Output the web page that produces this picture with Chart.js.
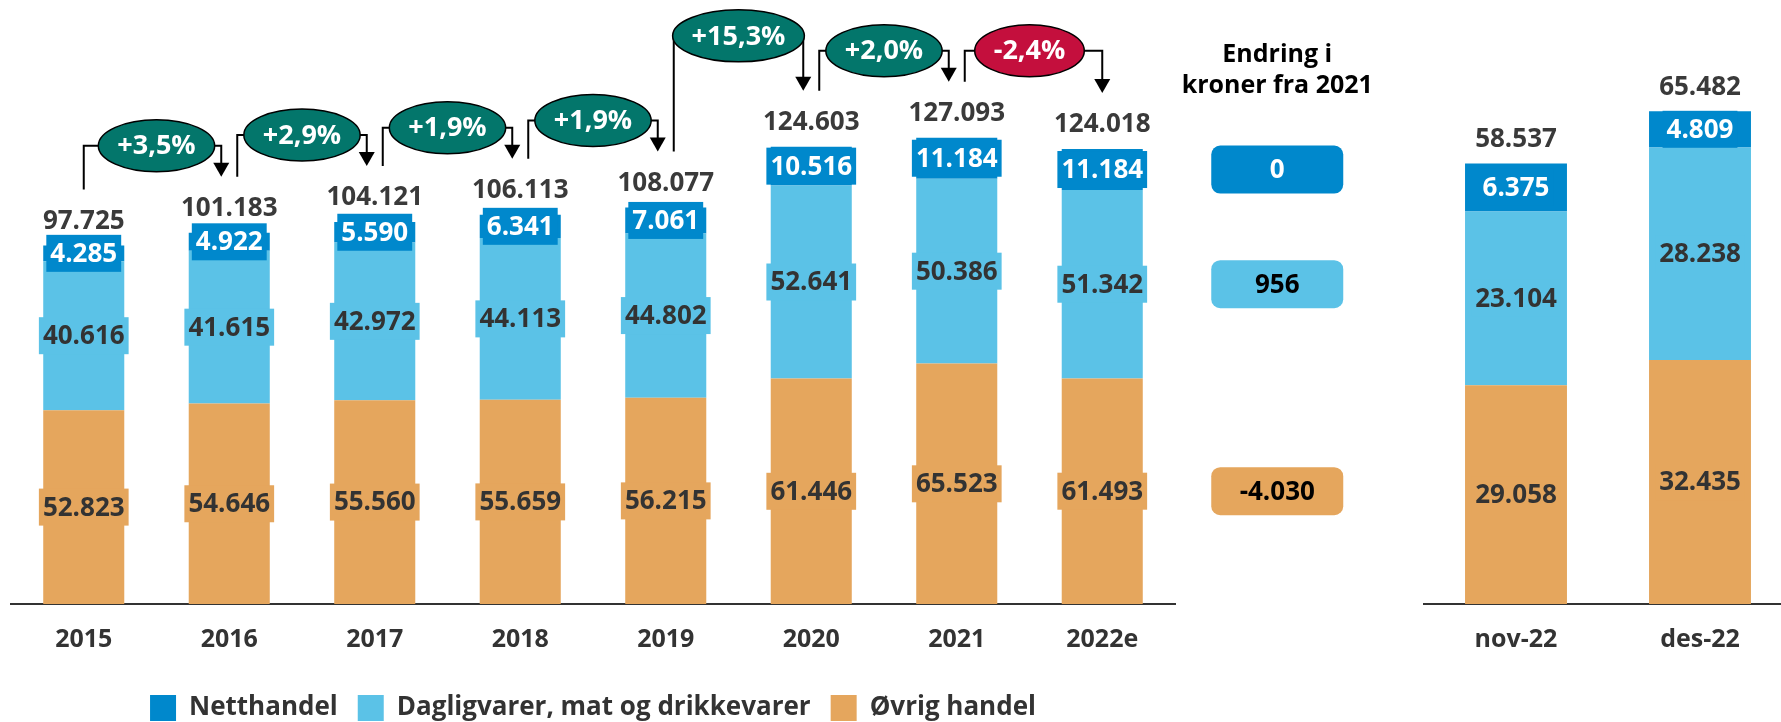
<!DOCTYPE html>
<html>
<head>
<meta charset="utf-8">
<script src="https://cdn.jsdelivr.net/npm/chart.js@4.4.0/dist/chart.umd.min.js"></script>
<style>
  html, body { margin: 0; padding: 0; background: #fff; overflow: hidden; }
  #wrap { position: relative; width: 1781px; height: 722px; overflow: hidden; }
  #main { position: absolute; left: 0; top: 0; }
  #side { position: absolute; left: 1400px; top: 0; }
</style>
</head>
<body>
<div id="wrap">
  <canvas id="main" width="1400" height="731"></canvas>
  <canvas id="side" width="392" height="731"></canvas>
</div>
<script>
// årstall (mill. kr)
const years = ['2015', '2016', '2017', '2018', '2019', '2020', '2021', '2022e'];
const netthandel = [4285, 4922, 5590, 6341, 7061, 10516, 11184, 11184];
const dagligvarer = [40616, 41615, 42972, 44113, 44802, 52641, 50386, 51342];
const ovrig = [52823, 54646, 55560, 55659, 56215, 61446, 65523, 61493];
const totals = [97725, 101183, 104121, 106113, 108077, 124603, 127093, 124018];

// endring 2022e mot 2021: netthandel, dagligvarer, øvrig
const endringTitle = ['Endring i', 'kroner fra 2021'];
const endring = [0, 956, -4030];

// måneder
const months = ['nov-22', 'des-22'];
const netthandelMnd = [6375, 4809];
const dagligvarerMnd = [23104, 28238];
const ovrigMnd = [29058, 32435];
const totalsMnd = [58537, 65482];

const BLUE = '#0088cc', LIGHT = '#5bc2e7', ORANGE = '#e5a65d';
const FONT = '"Open Sans", "Noto Sans", sans-serif';

function fmt(v) {
  const s = String(Math.abs(v)).replace(/\B(?=(\d{3})+(?!\d))/g, '.');
  return (v < 0 ? '-' : '') + s;
}
function pct(v) {
  return (v >= 0 ? '+' : '-') + Math.abs(v * 100).toFixed(1).replace('.', ',') + '%';
}

// verdietiketter i segmentene + totaler over stolpene
const segLabels = {
  id: 'segLabels',
  afterDatasetsDraw(chart, args, opts) {
    const ctx = chart.ctx;
    ctx.save();
    ctx.font = 'bold 26px ' + FONT;
    ctx.textAlign = 'center';
    ctx.textBaseline = 'middle';
    chart.data.datasets.forEach((ds, di) => {
      chart.getDatasetMeta(di).data.forEach((bar, i) => {
        const txt = fmt(ds.data[i]);
        const w = ctx.measureText(txt).width + 8;
        const y = (bar.y + bar.base) / 2;
        ctx.fillStyle = ds.backgroundColor;
        ctx.fillRect(bar.x - w / 2, y - 18.5, w, 37);
        ctx.fillStyle = ds.labelColor;
        ctx.fillText(txt, bar.x, y + 1);
      });
    });
    const xs = chart.scales.x, ys = chart.scales.y;
    ctx.fillStyle = '#3a3a3a';
    opts.totals.forEach((t, i) => {
      ctx.fillText(fmt(t), xs.getPixelForValue(i), ys.getPixelForValue(t) - 24);
    });
    ctx.restore();
  }
};

// vekst-piler med ellipser
const growth = {
  id: 'growth',
  afterDatasetsDraw(chart) {
    const ctx = chart.ctx, xs = chart.scales.x, ys = chart.scales.y;
    const last = totals.length - 1;
    ctx.save();
    for (let i = 0; i < last; i++) {
      const x1 = xs.getPixelForValue(i) + (i === 0 ? 0 : 8);
      const x2 = xs.getPixelForValue(i + 1) - (i + 1 === last ? 0 : 8);
      const t1 = ys.getPixelForValue(totals[i]) - 56, t2 = ys.getPixelForValue(totals[i + 1]) - 56;
      const level = Math.min(t1, t2) - 31 - (i === 4 ? 24 : 0);
      const change = totals[i + 1] / totals[i] - 1;
      ctx.strokeStyle = '#000';
      ctx.lineWidth = 2;
      ctx.beginPath();
      ctx.moveTo(x1, t1);
      ctx.lineTo(x1, level);
      ctx.lineTo(x2, level);
      ctx.lineTo(x2, t2 - 12);
      ctx.stroke();
      ctx.fillStyle = '#000';
      ctx.beginPath();
      ctx.moveTo(x2 - 8, t2 - 14);
      ctx.lineTo(x2 + 8, t2 - 14);
      ctx.lineTo(x2, t2);
      ctx.closePath();
      ctx.fill();

      const txt = pct(change);
      ctx.font = 'bold 27px ' + FONT;
      const tw = ctx.measureText(txt).width;
      const cx = (xs.getPixelForValue(i) + xs.getPixelForValue(i + 1)) / 2;
      ctx.beginPath();
      ctx.ellipse(cx, level, tw / 2 + 19, 26, 0, 0, Math.PI * 2);
      ctx.fillStyle = change >= 0 ? '#03766b' : '#c40f3d';
      ctx.fill();
      ctx.lineWidth = 1.5;
      ctx.stroke();
      ctx.fillStyle = '#fff';
      ctx.textAlign = 'center';
      ctx.textBaseline = 'middle';
      ctx.fillText(txt, cx, level + 1);
    }
    ctx.restore();
  }
};

// kolonnen "Endring i kroner fra 2021"
const endringCol = {
  id: 'endringCol',
  afterDatasetsDraw(chart) {
    const ctx = chart.ctx;
    const last = years.length - 1;
    const cx = chart.scales.x.getPixelForValue(last) + 175;
    ctx.save();
    ctx.textAlign = 'center';
    ctx.textBaseline = 'middle';
    ctx.font = 'bold 25px ' + FONT;
    ctx.fillStyle = '#000';
    ctx.fillText(endringTitle[0], cx, 55);
    ctx.fillText(endringTitle[1], cx, 86);
    // datasett-rekkefølge: øvrig(0), dagligvarer(1), netthandel(2)
    const boxes = [
      { ds: 2, val: endring[0], fill: BLUE, color: '#fff' },
      { ds: 1, val: endring[1], fill: LIGHT, color: '#000' },
      { ds: 0, val: endring[2], fill: ORANGE, color: '#000' }
    ];
    ctx.font = 'bold 26px ' + FONT;
    boxes.forEach(b => {
      const bar = chart.getDatasetMeta(b.ds).data[last];
      const y = (bar.y + bar.base) / 2;
      ctx.fillStyle = b.fill;
      ctx.beginPath();
      ctx.roundRect(cx - 66, y - 24, 132, 48, 9);
      ctx.fill();
      ctx.fillStyle = b.color;
      ctx.fillText(fmt(b.val), cx, y + 1);
    });
    ctx.restore();
  }
};

function datasets(o, d, n) {
  return [
    { label: 'Øvrig handel', data: o, backgroundColor: ORANGE, labelColor: '#333', borderWidth: 0 },
    { label: 'Dagligvarer, mat og drikkevarer', data: d, backgroundColor: LIGHT, labelColor: '#333', borderWidth: 0 },
    { label: 'Netthandel', data: n, backgroundColor: BLUE, labelColor: '#fff', borderWidth: 0 }
  ];
}

function xAxis(h) {
  return {
    stacked: true,
    grid: { display: false },
    border: { display: true, color: '#333', width: 2 },
    ticks: { color: '#333', font: { family: FONT, size: 25, weight: 'bold' }, padding: 13 },
    afterFit(scale) { scale.height = h; }
  };
}

new Chart(document.getElementById('main'), {
  type: 'bar',
  data: { labels: years, datasets: datasets(ovrig, dagligvarer, netthandel) },
  options: {
    responsive: false,
    animation: false,
    barPercentage: 0.557,
    categoryPercentage: 1,
    layout: { padding: { left: 11, right: 225, top: 17, bottom: 0 } },
    scales: {
      x: xAxis(71),
      y: { stacked: true, display: false, min: 0, max: 160000 }
    },
    plugins: {
      legend: {
        position: 'bottom',
        reverse: true,
        labels: {
          color: '#333',
          font: { family: FONT, size: 26, weight: 'bold' },
          boxWidth: 26, boxHeight: 26, padding: 20
        }
      },
      tooltip: { enabled: false },
      segLabels: { totals }
    }
  },
  plugins: [segLabels, growth, endringCol]
});

new Chart(document.getElementById('side'), {
  type: 'bar',
  data: { labels: months, datasets: datasets(ovrigMnd, dagligvarerMnd, netthandelMnd) },
  options: {
    responsive: false,
    animation: false,
    barPercentage: 0.554,
    categoryPercentage: 1,
    layout: { padding: { left: 24, right: 0, top: 17, bottom: 0 } },
    scales: {
      x: xAxis(127),
      y: { stacked: true, display: false, min: 0, max: 78000 }
    },
    plugins: {
      legend: { display: false },
      tooltip: { enabled: false },
      segLabels: { totals: totalsMnd }
    }
  },
  plugins: [segLabels]
});
</script>
</body>
</html>
